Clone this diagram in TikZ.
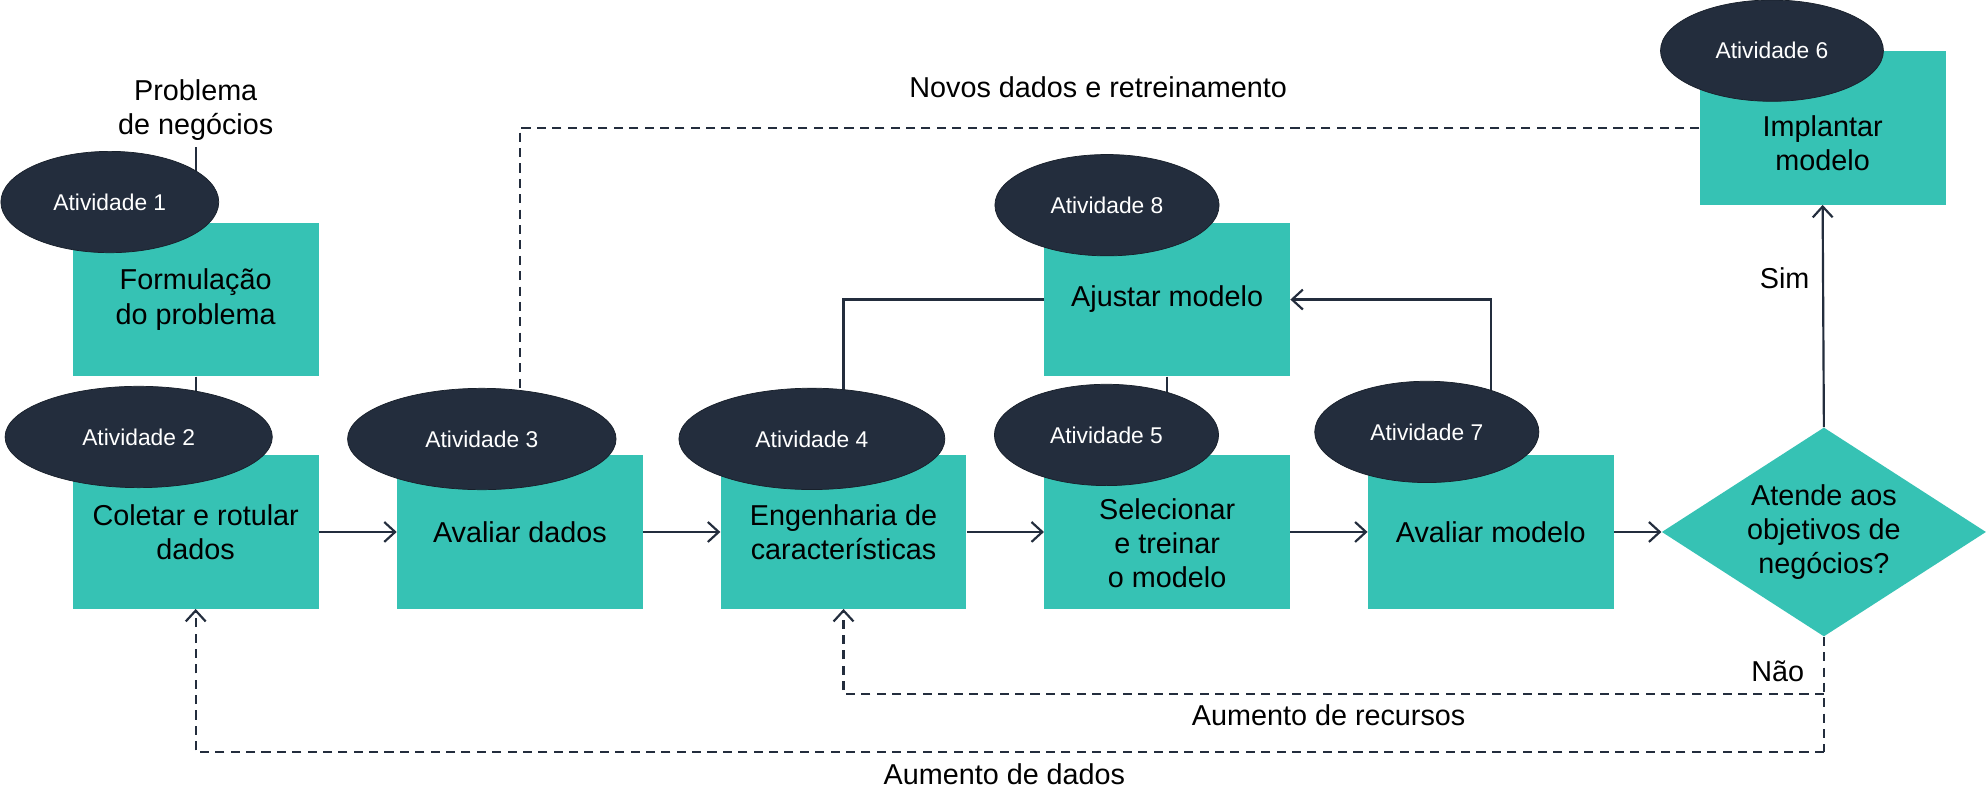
\documentclass[tikz,border=0pt]{standalone}
\usepackage{fontspec}
\setmainfont{Liberation Sans}
\usetikzlibrary{shapes.geometric,arrows.meta,backgrounds}

\definecolor{tealbox}{HTML}{36C2B4}
\definecolor{navy}{HTML}{232D3D}

\pgfdeclarelayer{paper}
\pgfsetlayers{paper,background,main}

\tikzset{
  actbox/.style={rectangle, fill=tealbox, inner sep=0pt, minimum width=194*0.7pt,
    minimum height=121*0.7pt, align=center, font=\fontsize{15.9}{18.8}\selectfont},
  acttag/.style={ellipse, fill=navy, draw=navy!70!black, text=white, inner sep=0pt,
    minimum height=80*0.7pt, font=\fontsize{12.6}{15}\selectfont},
  lbl/.style={align=center, font=\fontsize{15.9}{18.8}\selectfont},
  plainline/.style={draw=navy, line width=1.2pt},
  flowarrow/.style={draw=navy, line width=1.2pt, -{Straight Barb[length=6pt,width=11pt]}},
  dashline/.style={draw=navy, line width=1.2pt, dash pattern=on 5pt off 3.5pt},
}

\begin{document}
\begin{tikzpicture}[x=0.7pt, y=-0.7pt]
    % Page
    \begin{pgfonlayer}{paper}
      \fill[white] (0,0) rectangle (1568,638.7);
    \end{pgfonlayer}
    \useasboundingbox (0,0) rectangle (1568,638.7);

    % Boxes
    \node[actbox] (form) at (154.5,236.5) {Formulação\\do problema};
    \node[actbox] (colet) at (154.5,420) {Coletar e rotular\\dados};
    \node[actbox] (avald) at (410.5,420) {Avaliar dados};
    \node[actbox] (eng) at (666,420) {Engenharia de\\características};
    \node[actbox] (sel) at (921.5,420) {\\[5pt]Selecionar\\e treinar\\o modelo};
    \node[actbox] (avalm) at (1177,420) {Avaliar modelo};
    \node[actbox] (ajust) at (921.5,236.5) {Ajustar modelo};
    \node[actbox] (impl) at (1439,101) {\\[9.2pt]Implantar\\modelo};
    \node[actbox, diamond, shape aspect=1.55, minimum width=256*0.7pt,
      minimum height=165*0.7pt] (dec) at (1440,420) {Atende aos\\objetivos de\\negócios?};

    % Activity tags
    \node[acttag, minimum width=172*0.7pt] (t1) at (86.7,159.5) {Atividade 1};
    \node[acttag, minimum width=211*0.7pt] (t2) at (109.5,345) {Atividade 2};
    \node[acttag, minimum width=212*0.7pt] (t3) at (380.4,346.6) {Atividade 3};
    \node[acttag, minimum width=210*0.7pt] (t4) at (641,346.5) {Atividade 4};
    \node[acttag, minimum width=177*0.7pt] (t5) at (873.6,343.4) {Atividade 5};
    \node[acttag, minimum width=176*0.7pt] (t6) at (1399,40) {Atividade 6};
    \node[acttag, minimum width=177*0.7pt] (t7) at (1126.5,341) {Atividade 7};
    \node[acttag, minimum width=177*0.7pt] (t8) at (874,162) {Atividade 8};

    % Labels
    \node[lbl] (prob) at (154.5,87) {Problema\\de negócios};
    \node[lbl] (novos) at (867,69) {Novos dados e retreinamento};
    \node[lbl] (sim) at (1409,220) {Sim};
    \node[lbl] (nao) at (1403.5,530) {Não};
    \node[lbl] (aumrec) at (1049,564.5) {Aumento de recursos};
    \node[lbl] (aumdad) at (793,611) {Aumento de dados};

    % Lines behind the tags
    \begin{scope}[on background layer]
      \draw[plainline] (prob.south) -- (form.north);
      \draw[plainline] (form.south) -- (colet.north);
      \draw[plainline] (ajust.west) -| (eng.north);
      \draw[plainline] (ajust.south) -- (sel.north);
      \draw[flowarrow] (avalm.north) |- (ajust.east);
      \draw[dashline] (impl.west) -| (avald.north);
    \end{scope}

    % Main flow
    \draw[flowarrow] (colet) -- (avald);
    \draw[flowarrow] (avald) -- (eng);
    \draw[flowarrow] (eng) -- (sel);
    \draw[flowarrow] (sel) -- (avalm);
    \draw[flowarrow] (avalm) -- (dec);
    \draw[flowarrow] (dec.north) -- (impl.south);

    % Feedback loops
    \coordinate (nrec) at (1440,548);
    \coordinate (ndad) at (1440,594);
    \draw[dashline] (dec.south) -- (ndad);
    \draw[dashline, -{Straight Barb[length=6pt,width=11pt]}] (nrec) -| (eng.south);
    \draw[dashline, -{Straight Barb[length=6pt,width=11pt]}] (ndad) -| (colet.south);
\end{tikzpicture}
\end{document}
